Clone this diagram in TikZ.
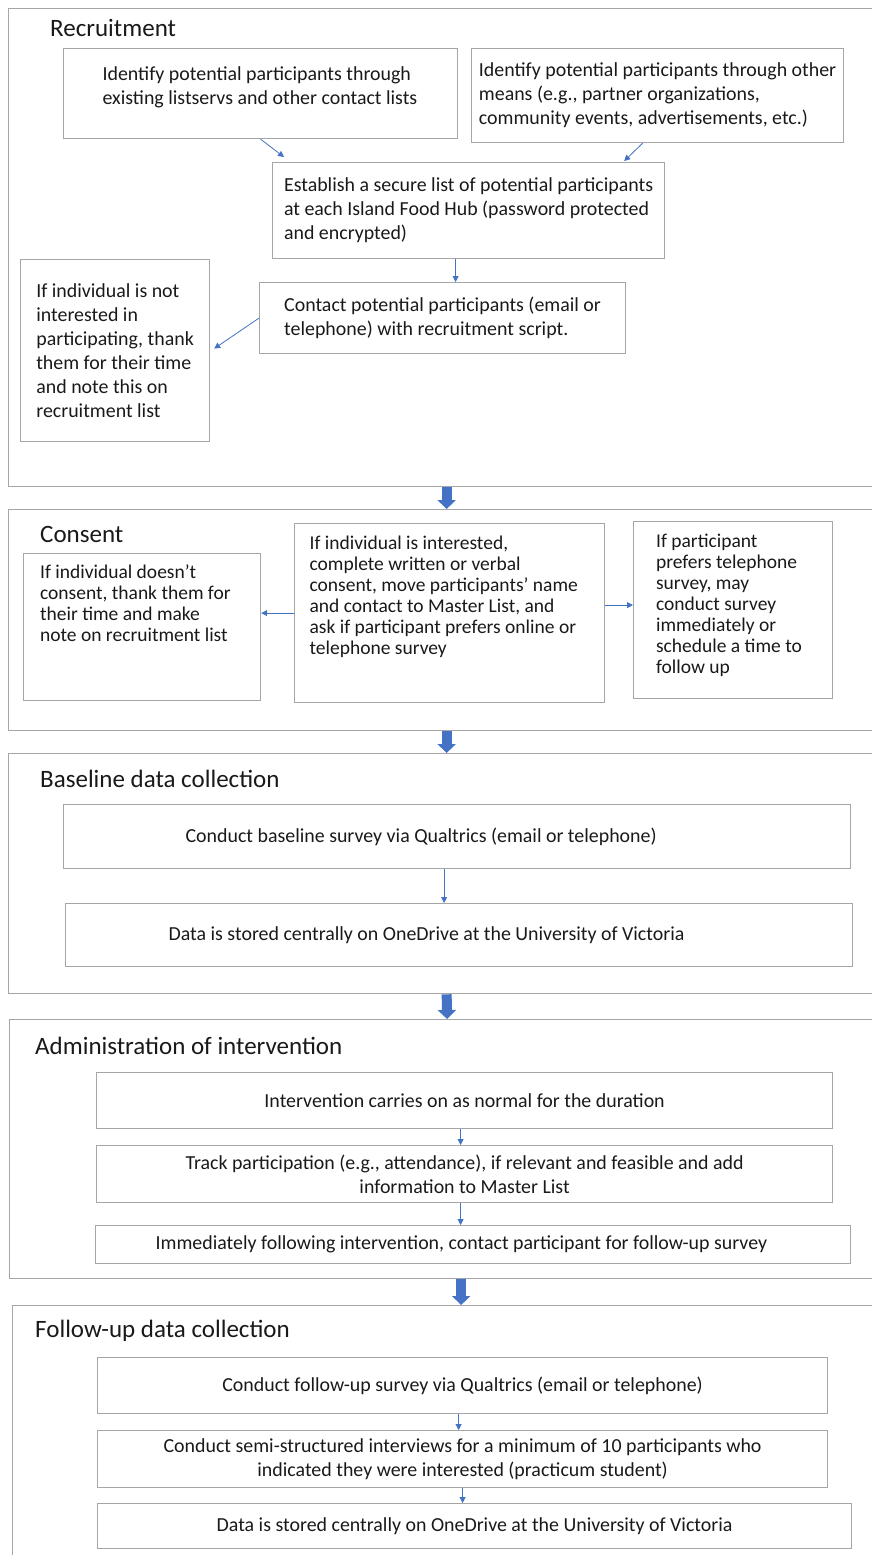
\documentclass[tikz,border=0pt]{standalone}
\usepackage{fontspec}
\setmainfont{Carlito}
\usetikzlibrary{arrows.meta,calc}

\definecolor{boxgray}{RGB}{166,166,166}
\definecolor{flowblue}{RGB}{68,114,196}
\definecolor{ink}{RGB}{25,25,25}

\begin{document}
\begin{tikzpicture}[x=1pt,y=-1pt,
  sect/.style={draw=boxgray,line width=1.3pt,anchor=north west,inner sep=0pt},
  box/.style={draw=boxgray,line width=1.2pt,anchor=north west,inner ysep=6pt,text=ink,
    font=\fontsize{19.9}{24}\selectfont,execute at begin node={\spaceskip=0pt\xspaceskip=0pt}},
  lbox/.style={box,align=flush left,inner xsep=0pt},
  cbox/.style={lbox,font=\fontsize{19.5}{21}\selectfont},
  cen/.style={box,align=flush center,inner xsep=10pt},
  toptext/.style 2 args={text height=#1,text depth=#2},
  title/.style={anchor=base west,inner sep=0pt,text=ink,font=\fontsize{25}{30}\selectfont},
  flow/.style={draw=flowblue,line width=0.8pt,-{Triangle[length=6pt,width=6pt]}},
  bigarrow/.style={draw=flowblue,line width=10pt,-{Triangle[length=9pt,width=18pt]}}]
\useasboundingbox (0,0) rectangle (872,1555);

% Recruitment
\node[sect,minimum width=865pt,minimum height=478pt] (recruit) at (8,8) {};
\node[title] (rectitle) at (50,37) {Recruitment};
\node[lbox,inner xsep=39pt,text width=316pt,toptext={26pt}{52pt}] (listserv) at (63,48) {Identify potential participants through\\existing listservs and other contact lists};
\node[lbox,minimum width=372pt,minimum height=94pt] (othermeans) at (471,48) {Identify potential participants through other\\means (e.g., partner organizations,\\community events, advertisements, etc.)};
\node[lbox,minimum width=392pt,minimum height=96pt] (securelist) at (272,162) {Establish a secure list of potential participants\\at each Island Food Hub (password protected\\and encrypted)};
\node[lbox,minimum width=366pt,minimum height=71pt] (contact) at (259,282) {Contact potential participants (email or\\telephone) with recruitment script.};
\node[lbox,minimum width=189pt,minimum height=182pt] (notint) at (20,259) {If individual is not\\interested in\\participating, thank\\them for their time\\and note this on\\recruitment list};
\draw[flow] (listserv.south) -- ([xshift=12pt,yshift=5pt]securelist.north west);
\draw[flow] ([xshift=-15pt]othermeans.south) -- ([xshift=-41pt,yshift=1pt]securelist.north east);
\draw[flow] ([xshift=-13pt]securelist.south) -- ([xshift=13pt]contact.north);
\draw[flow] (contact.west) -- ([xshift=4pt,yshift=2pt]notint.east);

% Consent
\node[sect,minimum width=865pt,minimum height=221pt] (consent) at (8,509) {};
\node[title] (contitle) at (40,542) {Consent};
\node[cbox,inner xsep=16.5pt,text width=204pt,toptext={19pt}{116pt}] (noconsent) at (23,553) {If individual doesn’t\\consent, thank them for\\their time and make\\note on recruitment list};
\node[cbox,inner xsep=15pt,text width=280pt,toptext={20pt}{147pt}] (interested) at (294,523) {If individual is interested,\\complete written or verbal\\consent, move participants’ name\\and contact to Master List, and\\ask if participant prefers online or\\telephone survey};
\node[cbox,inner xsep=22.5pt,text width=154pt,toptext={20pt}{145pt}] (phone) at (633,521) {If participant\\prefers telephone\\survey, may\\conduct survey\\immediately or\\schedule a time to\\follow up};
\draw[flow] (interested.west) -- (interested.west -| noconsent.east);
\draw[flow] ([yshift=8pt]interested.east) -- ([yshift=8pt]interested.east -| phone.west);
\draw[bigarrow] ([xshift=5.5pt]recruit.south) -- ([xshift=5.5pt]consent.north);

% Baseline data collection
\node[sect,minimum width=865pt,minimum height=240pt] (baseline) at (8,753) {};
\node[title] (bastitle) at (40,787) {Baseline data collection};
\node[box,align=flush left,inner xsep=122pt,text width=543pt,minimum height=64pt] (basesurvey) at (63,804) {Conduct baseline survey via Qualtrics (email or telephone)};
\node[box,align=flush left,inner xsep=103pt,text width=581pt,minimum height=63pt] (basestore) at (65,903) {Data is stored centrally on OneDrive at the University of Victoria};
\draw[flow] ([xshift=-13pt]basesurvey.south) -- ([xshift=-13pt]basesurvey.south |- basestore.north);
\draw[bigarrow] ([xshift=5.5pt]consent.south) -- ([xshift=5.5pt]baseline.north);

% Administration of intervention
\node[sect,minimum width=864pt,minimum height=259pt] (admin) at (9,1019) {};
\node[title] (admtitle) at (35,1054) {Administration of intervention};
\node[cen,text width=716pt,minimum height=56pt] (interv) at (96,1072) {Intervention carries on as normal for the duration};
\node[cen,text width=716pt,minimum height=57pt] (track) at (96,1145) {Track participation (e.g., attendance), if relevant and feasible and add\\information to Master List};
\node[box,align=flush left,inner xsep=60pt,text width=635pt,minimum height=38pt] (fucontact) at (95,1225) {Immediately following intervention, contact participant for follow-up survey};
\draw[flow] ([xshift=-4pt]interv.south) -- ([xshift=-4pt]track.north);
\draw[flow] ([xshift=-4pt]track.south) -- ([xshift=-4pt]track.south |- fucontact.north);
\draw[bigarrow] ([xshift=5.5pt]baseline.south) -- ([xshift=5.5pt]admin.north);

% Follow-up data collection
\node[sect,minimum width=861pt,minimum height=260pt] (followup) at (12,1305) {};
\node[title] (futitle) at (35,1337) {Follow-up data collection};
\node[cen,text width=710pt,minimum height=56pt] (fusurvey) at (97,1357) {Conduct follow-up survey via Qualtrics (email or telephone)};
\node[cen,text width=710pt,minimum height=57pt] (interviews) at (97,1430) {Conduct semi-structured interviews for a minimum of 10 participants who\\indicated they were interested (practicum student)};
\node[cen,text width=734pt,minimum height=45pt] (fustore) at (97,1503) {Data is stored centrally on OneDrive at the University of Victoria};
\draw[flow] ([xshift=-4pt]fusurvey.south) -- ([xshift=-4pt]interviews.north);
\draw[flow] (interviews.south) -- (interviews.south |- fustore.north);
\draw[bigarrow] ([xshift=19.5pt]admin.south) -- ([xshift=19.5pt]admin.south |- followup.north);

\end{tikzpicture}
\end{document}
